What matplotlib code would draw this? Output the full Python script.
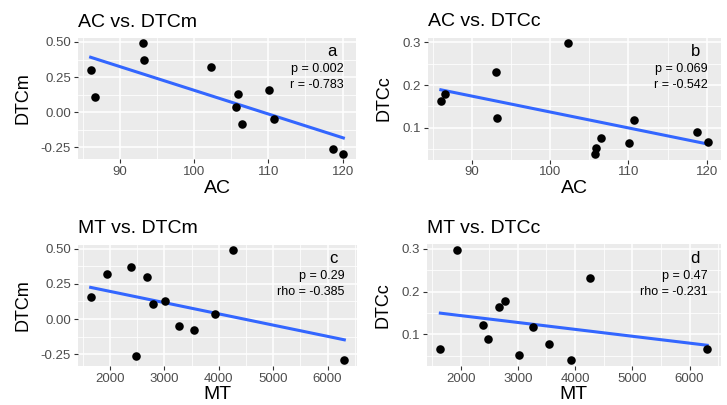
import numpy as np
import matplotlib
matplotlib.use("Agg")
import matplotlib.pyplot as plt
from matplotlib.ticker import FixedLocator

plt.rcParams["font.family"] = ["Liberation Sans", "DejaVu Sans"]

# ── data (one entry per subject) ──────────────────────────────────────────────
ac = [110.1, 102.3, 93.2, 118.7, 86.06, 86.6, 105.9, 110.7, 106.5, 105.7, 93.05, 120.1]
mt = [1645, 1943, 2386, 2472, 2673, 2783, 3018, 3272, 3550, 3937, 4264, 6308]
dtcm = [0.158, 0.32, 0.369, -0.261, 0.30, 0.106, 0.128, -0.05, -0.081, 0.035, 0.49, -0.294]
dtcc = [0.065, 0.298, 0.122, 0.090, 0.163, 0.178, 0.052, 0.118, 0.077, 0.039, 0.231, 0.066]

titles = ["AC vs. DTCm", "AC vs. DTCc", "MT vs. DTCm", "MT vs. DTCc"]
letters = ["a", "b", "c", "d"]
stats = [["p = 0.002", "r = -0.783"], ["p = 0.069", "r = -0.542"],
         ["p = 0.29", "rho = -0.385"], ["p = 0.47", "rho = -0.231"]]

ac_ticks = [90, 100, 110, 120]
mt_ticks = [2000, 3000, 4000, 5000, 6000]
dtcm_ticks = [-0.25, 0.0, 0.25, 0.5]
dtcm_labels = ["-0.25", "0.00", "0.25", "0.50"]
dtcc_ticks = [0.1, 0.2, 0.3]
dtcc_labels = ["0.1", "0.2", "0.3"]

W, H = 727, 405
PANEL_BG = "#EBEBEB"
LINE_BLUE = "#3366FF"
TICK_GREY = "#4D4D4D"


def expand(vals, frac=0.05):
    lo, hi = min(vals), max(vals)
    pad = (hi - lo) * frac
    return lo - pad, hi + pad


def minors(ticks):
    step = ticks[1] - ticks[0]
    return [ticks[0] - step / 2] + [t + step / 2 for t in ticks]


def panel(fig, box, x, y, xt, yt, ytl, xlabel, ylabel, title, letter, stat):
    l, r, t, b = box
    ax = fig.add_axes([l / W, 1 - b / H, (r - l) / W, (b - t) / H])
    ax.set_facecolor(PANEL_BG)
    for s in ax.spines.values():
        s.set_visible(False)

    ax.set_xlim(*expand(x))
    ax.set_ylim(*expand(y))
    ax.set_xticks(xt)
    ax.set_yticks(yt)
    ax.set_yticklabels(ytl)
    ax.xaxis.set_minor_locator(FixedLocator(minors(xt)))
    ax.yaxis.set_minor_locator(FixedLocator(minors(yt)))
    ax.grid(which="major", color="white", linewidth=1.1)
    ax.grid(which="minor", color="white", linewidth=0.55)
    ax.set_axisbelow(True)
    ax.tick_params(which="major", length=3, width=0.8, color="#333333",
                   labelcolor=TICK_GREY, labelsize=9.5, pad=2)
    ax.tick_params(which="minor", length=0)

    ax.scatter(x, y, s=38, color="black", zorder=3, linewidths=0)
    k, c = np.polyfit(x, y, 1)
    xs = np.array([min(x), max(x)])
    ax.plot(xs, k * xs + c, color=LINE_BLUE, linewidth=2.2, zorder=2)

    ax.set_xlabel(xlabel, fontsize=14, labelpad=1)
    ax.set_ylabel(ylabel, fontsize=13, labelpad=7)
    ax.set_title(title, loc="left", fontsize=14, pad=8)

    ax.text(0.93, 0.85, letter, transform=ax.transAxes, ha="right",
            va="baseline", fontsize=12)
    ax.text(0.955, 0.715, stat[0], transform=ax.transAxes, ha="right",
            va="baseline", fontsize=9)
    ax.text(0.955, 0.583, stat[1], transform=ax.transAxes, ha="right",
            va="baseline", fontsize=9)
    return ax


fig = plt.figure(figsize=(W / 100, H / 100), dpi=100)

boxes = [(78, 356, 37.8, 159.2), (427.5, 721, 37.5, 159.5),
         (78, 357, 244.5, 366), (427, 720.5, 244.3, 366)]

panel(fig, boxes[0], ac, dtcm, ac_ticks, dtcm_ticks, dtcm_labels,
      "AC", "DTCm", titles[0], letters[0], stats[0])
panel(fig, boxes[1], ac, dtcc, ac_ticks, dtcc_ticks, dtcc_labels,
      "AC", "DTCc", titles[1], letters[1], stats[1])
panel(fig, boxes[2], mt, dtcm, mt_ticks, dtcm_ticks, dtcm_labels,
      "MT", "DTCm", titles[2], letters[2], stats[2])
panel(fig, boxes[3], mt, dtcc, mt_ticks, dtcc_ticks, dtcc_labels,
      "MT", "DTCc", titles[3], letters[3], stats[3])

fig.savefig("out.png", dpi=100)
